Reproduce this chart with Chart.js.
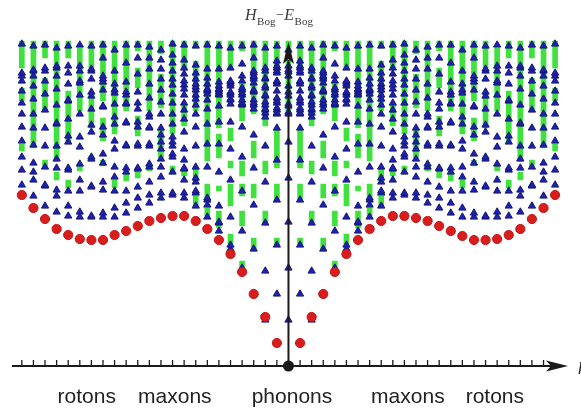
<!DOCTYPE html>
<html>
<head>
<meta charset="utf-8">
<script src="https://cdn.jsdelivr.net/npm/chart.js@4.4.1/dist/chart.umd.min.js"></script>
<style>
  html, body { margin: 0; padding: 0; background: #fff; }
</style>
</head>
<body>
<canvas id="chart" width="581" height="410"></canvas>
<script>
// momentum grid shown on the axis
const momenta = [-23,-22,-21,-20,-19,-18,-17,-16,-15,-14,-13,-12,-11,-10,-9,-8,-7,-6,-5,-4,-3,-2,-1,
                 0,1,2,3,4,5,6,7,8,9,10,11,12,13,14,15,16,17,18,19,20,21,22,23];

// lowest branch (red dots), one per momentum
const bogEnergy = [171,158,147,137,131,127,126,126,131,135,140,145,148,150,150,145,137,126,112,94,72,49,23,
                   null,23,49,72,94,112,126,137,145,150,150,148,145,140,135,130,126,126,127,131,137,147,158,171];

// two-quasiparticle levels (blue triangles), listed by |k|
const pairLevels = [
  [46,98,144,188,224,252,254,260,262,270,274,280,290,294,296,300,316],
  [72,121,166,206,238,252,253,256,258,263,265,268,275,282,284,285,293,295,298,300,305,320],
  [46,95,143,184,220,249,253,256,257,261,264,270,271,278,280,287,288,295,298,318],
  [72,117,161,198,231,257,261,263,266,274,275,276,283,287,289,290,293,295,308,321],
  [95,98,135,175,209,239,261,262,263,266,271,273,276,278,285,290,302,320],
  [117,121,149,186,217,244,262,266,267,271,273,274,280,282,284,285,298,318],
  [135,143,144,160,194,222,244,260,271,272,274,276,277,280,284,297,320],
  [149,161,166,168,199,222,242,257,266,272,275,276,277,282,288,297,321],
  [160,173,175,184,188,199,220,239,252,261,267,271,276,279,282,287,293,301,320],
  [168,173,186,197,198,206,217,234,247,256,263,271,277,281,285,292,298,306,321],
  [171,173,194,209,212,220,224,229,242,252,263,272,281,287,295,303,311,322],
  [168,173,189,199,207,217,224,231,238,252,264,276,287,297,306,316],
  [163,171,184,199,202,220,222,238,239,249,252,268,282,297,308,319],
  [158,168,179,197,198,220,222,239,244,257,263,274,292,308,321],
  [153,163,175,194,198,220,221,243,244,262,263,271,274,284,303,321],
  [149,158,175,189,199,217,225,242,249,262,273,276,282,295,316],
  [149,153,176,184,203,212,231,239,259,260,276,284,287,290,308,321],
  [149,150,179,180,207,209,234,241,257,270,274,287,295,297,320],
  [149,154,175,186,202,219,229,252,271,283,285,295,300,321],
  [150,160,175,196,198,224,230,247,265,266,282,293,300,320],
  [154,170,176,198,207,220,242,243,261,277,290,298,300,318],
  [160,180,181,199,220,238,256,272,285,295,298,321],
  [170,186,194,203,221,238,252,267,280,290,295,296,320],
  [181,196,209,225,239,252,263,275,285,290,293,322]
];

// higher continuum (green bars) as [low, high] ranges, listed by |k|
const greenBands = [
  [[255,325]],
  [[298,325],[198,238],[165,182],[120,128]],
  [[240,325],[192,205],[142,155]],
  [[252,325],[208,225],[168,182],[115,128]],
  [[315,325],[245,282],[190,205],[170,182],[140,155],[98,105]],
  [[298,325],[225,238],[198,205],[160,182],[122,132]],
  [[238,325],[208,232],[175,180],[138,155]],
  [[205,325],[168,182],[150,158]],
  [[318,325],[255,305],[185,198],[160,170]],
  [[298,325],[240,262],[190,198]],
  [[232,325],[192,200]],
  [[312,325],[258,292],[208,238]],
  [[255,325],[195,202]],
  [[315,325],[278,298],[230,250],[188,195]],
  [[255,325],[185,193]],
  [[232,325],[178,186]],
  [[265,325],[225,248],[200,206]],
  [[298,325],[238,272],[205,210]],
  [[255,318],[195,200]],
  [[308,325],[225,275],[178,186]],
  [[205,325],[186,194]],
  [[308,325],[255,288],[200,206]],
  [[218,325]],
  [[298,325],[265,278],[215,222]]
];

const bottomLabels = ["rotons", "maxons", "phonons", "maxons", "rotons"];
const labelAt = [-17.4, -9.8, 0.3, 10.3, 17.8];

const redPoints = [];
momenta.forEach((k, i) => {
    if (bogEnergy[i] !== null) redPoints.push({x: k, y: bogEnergy[i]});
});

const bluePoints = [];
const greenPoints = [];
momenta.forEach(k => {
    pairLevels[Math.abs(k)].forEach(e => bluePoints.push({x: k, y: e}));
    greenBands[Math.abs(k)].forEach(b => greenPoints.push({x: k, y: b}));
});

const axesPlugin = {
    id: "bogAxes",
    afterDatasetsDraw(chart) {
        const {ctx, scales: {x, y}} = chart;
        const x0 = x.getPixelForValue(0);
        const y0 = y.getPixelForValue(0);
        ctx.save();
        ctx.strokeStyle = "#1a1a1a";
        ctx.fillStyle = "#1a1a1a";

        // horizontal axis with arrow
        ctx.lineWidth = 2;
        ctx.beginPath();
        ctx.moveTo(12, y0);
        ctx.lineTo(552, y0);
        ctx.stroke();
        ctx.beginPath();
        ctx.moveTo(568, y0);
        ctx.lineTo(546, y0 - 5.5);
        ctx.lineTo(551, y0);
        ctx.lineTo(546, y0 + 5.5);
        ctx.closePath();
        ctx.fill();

        ctx.lineWidth = 1.3;
        momenta.forEach(k => {
            const px = x.getPixelForValue(k);
            if (px > 545) return;
            ctx.beginPath();
            ctx.moveTo(px, y0);
            ctx.lineTo(px, y0 - 6);
            ctx.stroke();
        });

        // vertical axis with arrow
        ctx.lineWidth = 2;
        ctx.beginPath();
        ctx.moveTo(x0, y0);
        ctx.lineTo(x0, 60);
        ctx.stroke();
        ctx.beginPath();
        ctx.moveTo(x0, 42);
        ctx.lineTo(x0 - 5.5, 64);
        ctx.lineTo(x0, 59);
        ctx.lineTo(x0 + 5.5, 64);
        ctx.closePath();
        ctx.fill();

        ctx.beginPath();
        ctx.arc(x0, y0, 5.5, 0, Math.PI * 2);
        ctx.fill();
        ctx.restore();
    },
    afterDraw(chart) {
        const {ctx, scales: {x}} = chart;
        ctx.save();
        ctx.fillStyle = "#222";
        ctx.textBaseline = "alphabetic";

        ctx.textAlign = "center";
        ctx.font = '21px "Liberation Sans", Arial, sans-serif';
        bottomLabels.forEach((t, i) => ctx.fillText(t, x.getPixelForValue(labelAt[i]), 403));

        // axis name H_Bog - E_Bog
        ctx.textAlign = "left";
        ctx.fillStyle = "#3a3a3a";
        const parts = [
            ["H", 'italic 16px "Liberation Serif", serif', 20],
            ["Bog", '11px "Liberation Serif", serif', 25],
            ["\u2212", '14px "Liberation Serif", serif', 19],
            ["E", 'italic 16px "Liberation Serif", serif', 20],
            ["Bog", '11px "Liberation Serif", serif', 25]
        ];
        let px = 245;
        parts.forEach(([t, f, base]) => {
            ctx.font = f;
            ctx.fillText(t, px, base);
            px += ctx.measureText(t).width + 0.5;
        });

        ctx.font = 'italic 17px "Liberation Serif", serif';
        ctx.fillStyle = "#222";
        ctx.fillText("k", 578, 374);
        ctx.restore();
    }
};

new Chart(document.getElementById("chart"), {
    type: "scatter",
    data: {
        datasets: [
            {
                label: "single quasiparticle",
                data: redPoints,
                pointStyle: "circle",
                pointRadius: 4.6,
                backgroundColor: "#d91d1d",
                borderColor: "#c41515",
                borderWidth: 1,
                order: 0
            },
            {
                label: "two quasiparticles",
                data: bluePoints,
                pointStyle: "triangle",
                pointRadius: 4.2,
                backgroundColor: "#1f22b0",
                borderColor: "#15177a",
                borderWidth: 1,
                order: 1
            },
            {
                type: "bar",
                label: "continuum",
                data: greenPoints,
                backgroundColor: "#3fe23c",
                barThickness: 5,
                grouped: false,
                order: 2
            }
        ]
    },
    options: {
        responsive: false,
        animation: false,
        layout: { padding: { left: 0, right: 1, top: 26, bottom: 44 } },
        scales: {
            x: { type: "linear", min: -24.4, max: 24.75, offset: false, display: false },
            y: { type: "linear", min: 0, max: 340, display: false }
        },
        plugins: {
            legend: { display: false },
            tooltip: { enabled: false }
        }
    },
    plugins: [axesPlugin]
});
</script>
</body>
</html>
